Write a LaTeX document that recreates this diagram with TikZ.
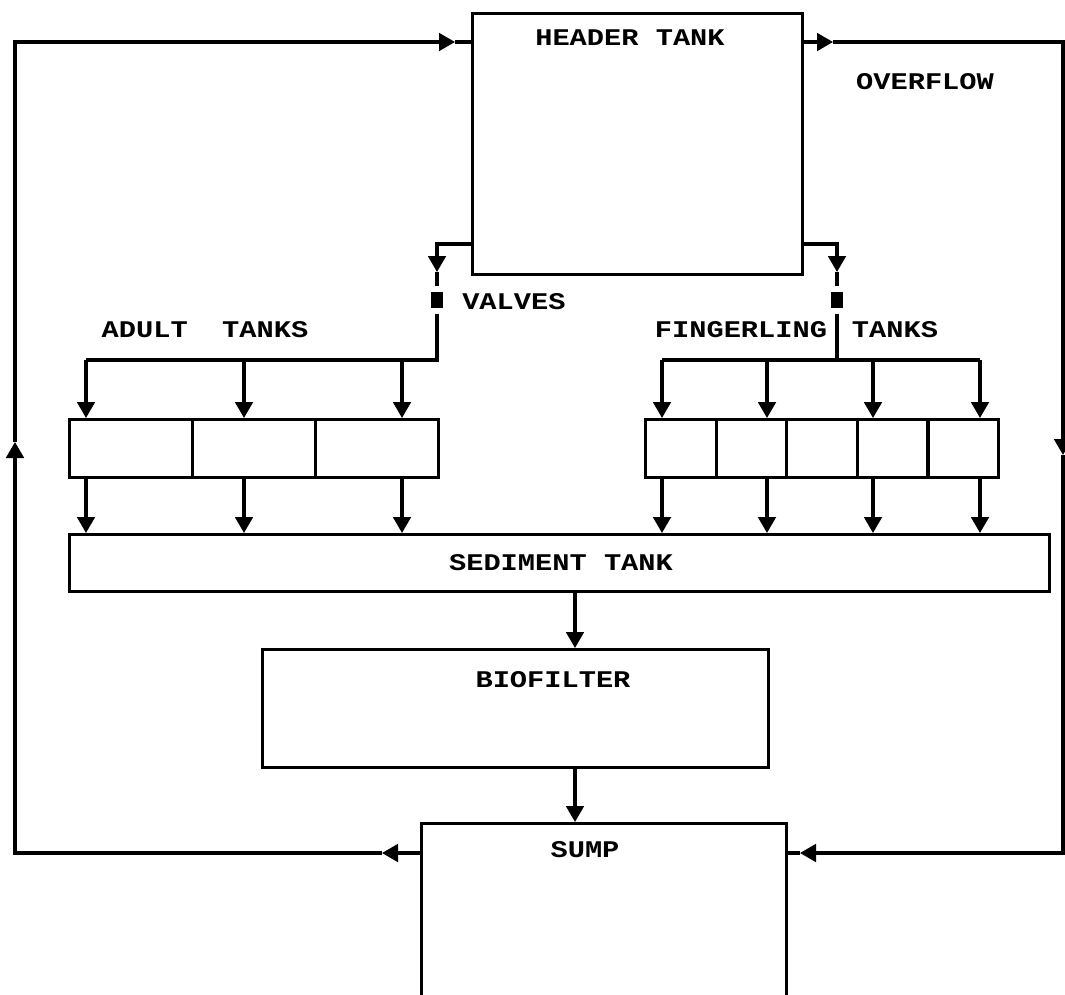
\documentclass[tikz,border=0pt]{standalone}
\usepackage{fontspec}
\setmainfont{Liberation Mono}[FakeStretch=1.2]
\usetikzlibrary{arrows.meta}
\newcommand{\px}{0.025cm}

\begin{document}
\begin{tikzpicture}[x=\px, y=-\px,
    pipe/.style={line width=2.2pt},
    flow/.style={pipe, -{Triangle[length=0.4cm,width=0.44cm]}},
    tank/.style 2 args={draw, line width=2.2pt, anchor=north west, inner sep=0pt,
        minimum width=#1*\px, minimum height=#2*\px},
    valve/.style={draw, fill=black, inner sep=0pt, line width=0.6pt,
        minimum width=11*\px, minimum height=15*\px},
    lbl/.style={font=\fontsize{17}{20}\selectfont\bfseries, inner sep=0pt}]
    \clip (0,0) rectangle (1065,994);

    % Header tank
    \node[tank={330}{261}] (header) at (471,12) {};
    \node[lbl] (headertxt) at (630,38) {HEADER TANK};
    \node[lbl] (overtxt) at (925,82) {OVERFLOW};

    % Valves
    \node[valve] (valveA) at (437,300) {};
    \node[valve] (valveB) at (837,300) {};
    \node[lbl, anchor=west] (valvetxt) at (462,302) {VALVES};

    % Adult tanks
    \foreach \i in {0,1,2}
        \node[tank={123}{58}] (adult\i) at ({68+123*\i},418) {};
    \node[lbl] (adulttxt) at (205,330) {ADULT\ \ TANKS};

    % Fingerling tanks
    \foreach \i in {0,...,4}
        \node[tank={70.6}{58}] (fing\i) at ({644+70.6*\i},418) {};
    \node[lbl] (fingtxt) at (741,330) {FINGERLING};
    \node[lbl] (tankstxt) at (895,330) {TANKS};

    % Sediment tank
    \node[tank={980}{57}] (sediment) at (68,533) {};
    \node[lbl] (sedtxt) at (561,563) {SEDIMENT TANK};

    % Biofilter
    \node[tank={506}{118}] (biofilter) at (261,648) {};
    \node[lbl] (biotxt) at (553,680) {BIOFILTER};

    % Sump
    \node[tank={365}{200}] (sump) at (420,822) {};
    \node[lbl] (sumptxt) at (585,850) {SUMP};

    % Feed to valves
    \coordinate (tipA) at (437,272);
    \coordinate (tipB) at (837,272);
    \draw[flow] (header.west |- 0,244) -| (tipA);
    \draw[pipe, shorten >=0.15cm] (tipA) -- (valveA.north);
    \draw[flow] (header.east |- 0,244) -| (tipB);
    \draw[pipe, shorten >=0.15cm] (tipB) -- (valveB.north);

    % Adult side
    \draw[pipe, shorten <=0.15cm] (valveA.south) |- (86,360);
    \foreach \x in {86,244,402} {
        \draw[flow] (\x,360) -- (\x,0 |- adult0.north);
        \draw[flow] (\x,0 |- adult0.south) -- (\x,0 |- sediment.north);
    }

    % Fingerling side
    \draw[pipe, shorten <=0.15cm] (valveB.south) -- (837,360);
    \draw[pipe] (662,360) -- (980,360);
    \foreach \x in {662,767,873,980} {
        \draw[flow] (\x,360) -- (\x,0 |- fing0.north);
        \draw[flow] (\x,0 |- fing0.south) -- (\x,0 |- sediment.north);
    }

    % Sediment -> biofilter -> sump
    \draw[flow] (575,0 |- sediment.south) -- (575,0 |- biofilter.north);
    \draw[flow] (575,0 |- biofilter.south) -- (575,0 |- sump.north);

    % Return loop
    \coordinate (retA) at (382,853);
    \coordinate (retB) at (15,442);
    \coordinate (retC) at (455,42);
    \draw[flow] (sump.west |- 0,853) -- (retA);
    \draw[flow] (retA) -| (retB);
    \draw[flow] (retB) |- (retC);
    \draw[pipe] (retC) -- (header.west |- 0,42);

    % Overflow loop
    \coordinate (ovA) at (833,42);
    \coordinate (ovB) at (1063,455);
    \coordinate (ovC) at (800,853);
    \draw[flow] (header.east |- 0,42) -- (ovA);
    \draw[flow] (ovA) -| (ovB);
    \draw[flow] (ovB) |- (ovC);
    \draw[pipe] (ovC) -- (sump.east |- 0,853);
\end{tikzpicture}
\end{document}
